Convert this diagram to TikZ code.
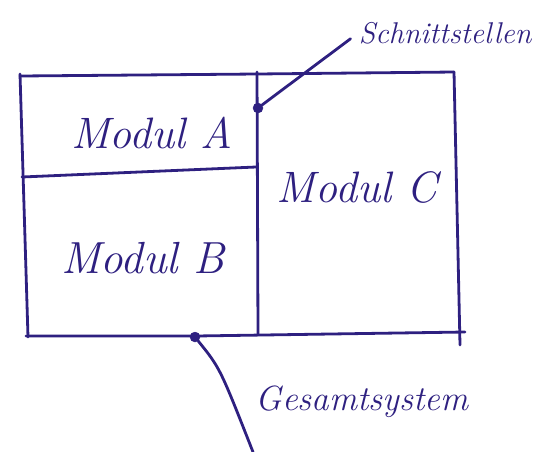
\documentclass[tikz,border=0pt]{standalone}
\definecolor{ink}{HTML}{2E2080}
\begin{document}
\begin{tikzpicture}[x=1pt, y=-1pt,
    pen/.style={draw=ink, line width=2.8pt, line cap=round, line join=round},
    hand/.style={text=ink, inner sep=0pt, anchor=base, font=\itshape\fontsize{#1}{#1}\selectfont},
    port/.style={circle, fill=ink, draw=ink, minimum size=10pt, inner sep=0pt}]
  \useasboundingbox (0,0) rectangle (540,451);

  % outer frame of the whole system
  \draw[pen] (20,76) -- (257,74) -- (454,72);
  \draw[pen] (20,74) -- (28,337);
  \draw[pen] (454,72) -- (460,345);
  \draw[pen] (26,336) -- (196,336) -- (465,332);

  % divisions between the modules
  \draw[pen] (257,72) -- (258,334);
  \draw[pen] (22,177) -- (256,167);

  % module labels
  \node[hand=44] (ma) at (152,148) {Modul A};
  \node[hand=45] (mb) at (143,273) {Modul B};
  \node[hand=44] (mc) at (357,202) {Modul C};

  % interfaces and system boundary
  \node[port] (p1) at (258,108) {};
  \node[port] (p2) at (195,337) {};
  \node[hand=30] (st) at (445,43) {Schnittstellen};
  \node[hand=35] (gs) at (362,410) {Gesamtsystem};
  \coordinate (gsend) at (253,452);

  \draw[pen, shorten >=10pt] (p1) -- (st.west);
  \draw[pen] (p2) .. controls (220,368) .. (gsend);
\end{tikzpicture}
\end{document}
